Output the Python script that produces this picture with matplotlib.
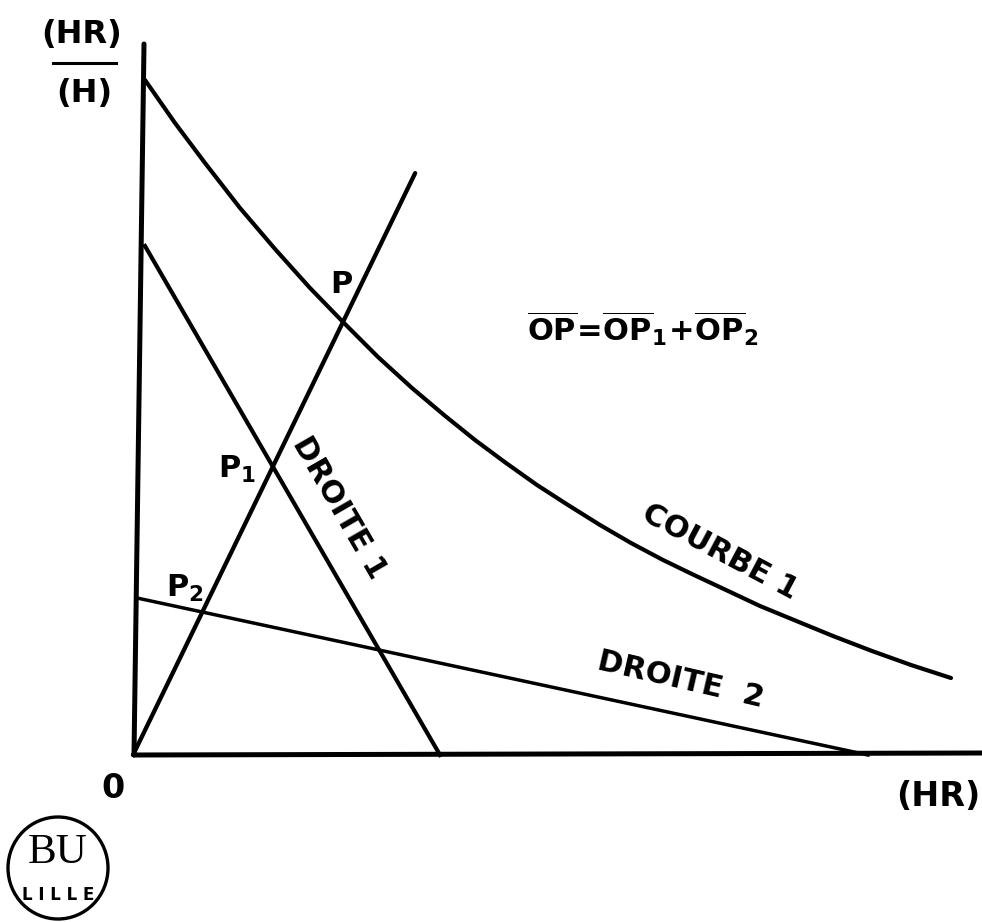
import matplotlib.pyplot as plt
from matplotlib.patches import Ellipse

plt.rcParams['font.family'] = ['DejaVu Sans']
plt.rcParams['mathtext.fontset'] = 'custom'
plt.rcParams['mathtext.rm'] = 'DejaVu Sans:bold'
plt.rcParams['mathtext.it'] = 'DejaVu Sans:bold'
plt.rcParams['mathtext.bf'] = 'DejaVu Sans:bold'

# axes (slightly hand drawn)
axe_v_x = [0.01, 0.11]
axe_v_y = [0.0, 7.11]
axe_h_x = [0.0, 8.49]
axe_h_y = [0.0, 0.02]

# courbe 1
courbe_x = [0.12, 0.42, 0.72, 1.07, 1.42, 1.77, 2.10, 2.45, 2.79, 3.11, 3.42, 3.73,
            4.04, 4.35, 4.67, 4.98, 5.30, 5.61, 5.93, 6.27, 6.61, 7.00, 7.39, 7.78, 8.18]
courbe_y = [6.75, 6.32, 5.92, 5.47, 5.06, 4.67, 4.33, 3.98, 3.67, 3.40, 3.15, 2.92,
            2.70, 2.50, 2.30, 2.12, 1.95, 1.80, 1.65, 1.49, 1.35, 1.19, 1.04, 0.90, 0.77]

# droites 1 et 2
droite1_x = [0.12, 3.07]
droite1_y = [5.09, 0.0]
droite2_x = [0.04, 7.35]
droite2_y = [1.57, 0.0]

# points P1, P2 et P = P1 + P2
P1 = (1.40, 2.89)
P2 = (0.69, 1.42)
P = (P1[0] + P2[0], P1[1] + P2[1])
op_fin = 1.35  # prolongement de la droite OP au-dela de P

fig = plt.figure(figsize=(9.82, 9.22), dpi=100)
ax = fig.add_axes([0, 0, 1, 1])
ax.set_xlim(-1.33, 8.49)
ax.set_ylim(-1.67, 7.55)
ax.axis('off')

ax.plot(axe_v_x, axe_v_y, color='black', lw=3.6, solid_capstyle='round')
ax.plot(axe_h_x, axe_h_y, color='black', lw=3.6, solid_capstyle='butt')
ax.plot(courbe_x, courbe_y, color='black', lw=3.0, solid_capstyle='round',
        solid_joinstyle='round')
ax.plot(droite1_x, droite1_y, color='black', lw=3.0)
ax.plot(droite2_x, droite2_y, color='black', lw=2.5)
ax.plot([0, P[0] * op_fin], [0, P[1] * op_fin], color='black', lw=3.1,
        solid_capstyle='round')

txt = dict(color='black', fontweight='bold', ha='center', va='center')

# etiquettes des axes
ax.text(-0.51, 7.20, '(HR)', fontsize=23, **txt)
ax.plot([-0.80, -0.17], [6.92, 6.92], color='black', lw=2.2)
ax.text(-0.49, 6.61, '(H)', fontsize=23, **txt)
ax.text(-0.20, -0.33, '0', fontsize=24, **txt)
ax.text(8.05, -0.42, '(HR)', fontsize=24, **txt)

# points
ax.text(2.08, 4.70, 'P', fontsize=22, **txt)
ax.text(1.04, 2.86, r'$\mathrm{P}_1$', fontsize=22, **txt)
ax.text(0.52, 1.67, r'$\mathrm{P}_2$', fontsize=22, **txt)

ax.text(5.10, 4.26,
        r'$\overline{\mathrm{OP}}\!=\!\overline{\mathrm{OP}}_1\!+\!\overline{\mathrm{OP}}_2$',
        fontsize=22, **txt)

# noms des courbes
ax.text(2.06, 2.47, 'DROITE 1', fontsize=22, rotation=-60, **txt)
ax.text(5.87, 2.03, 'COURBE 1', fontsize=22, rotation=-28, **txt)
ax.text(5.48, 0.75, 'DROITE  2', fontsize=22, rotation=-13, **txt)

# tampon
ax.add_patch(Ellipse((-0.75, -1.13), 1.0, 1.02, fill=False, lw=2.4, color='black'))
ax.text(-0.75, -0.98, 'BU', fontsize=31, family='Liberation Serif',
        color='black', ha='center', va='center')
ax.text(-0.75, -1.40, 'L I L L E', fontsize=12, family='DejaVu Sans',
        fontweight='bold', color='black', ha='center', va='center')

fig.savefig('out.png', dpi=100, facecolor='white')
